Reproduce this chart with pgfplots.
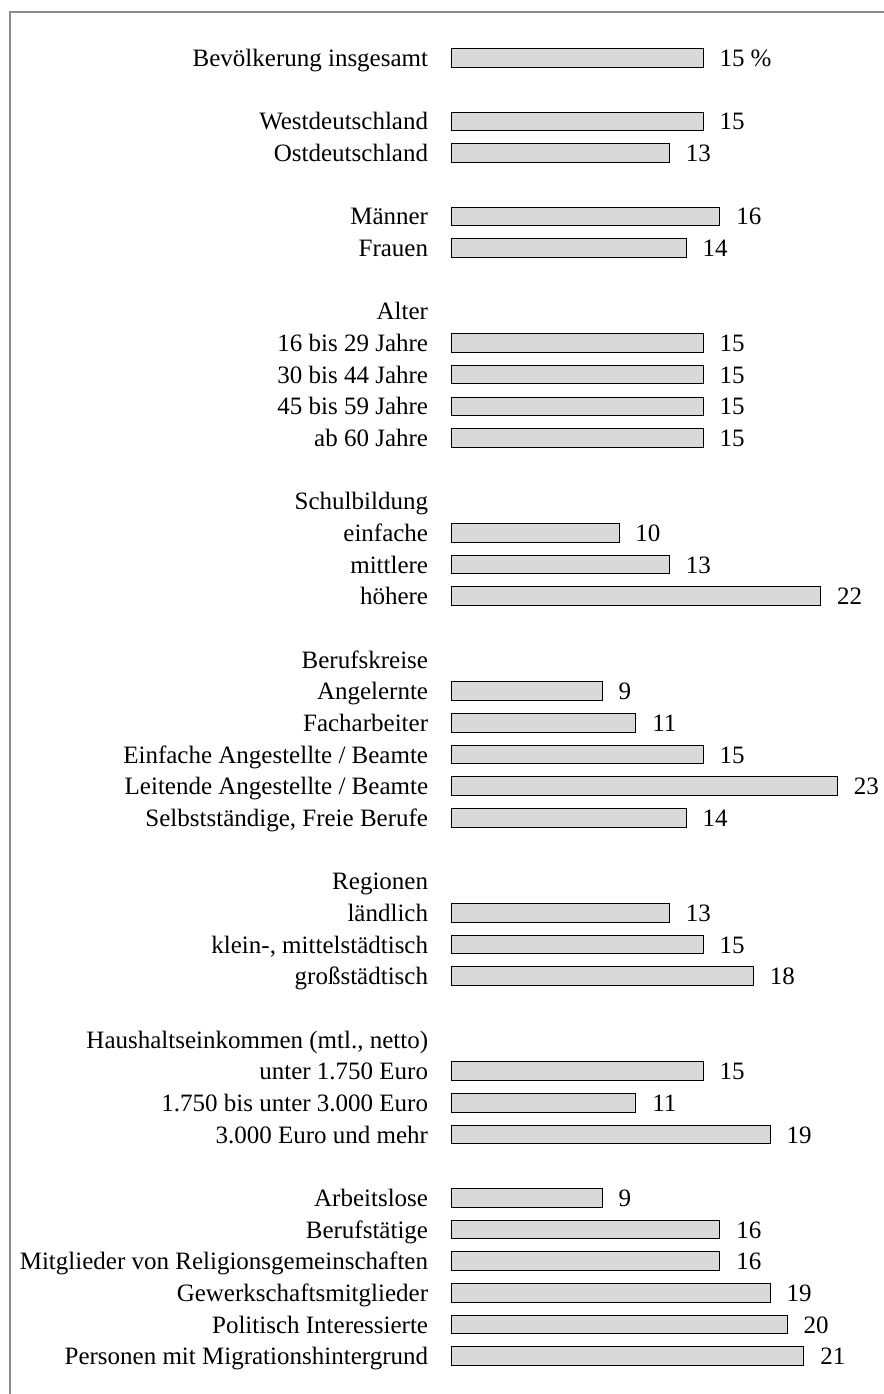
\documentclass[border=0pt]{standalone}
\usepackage{fontspec}
\setmainfont{Liberation Serif}
\usepackage{pgfplots}
\pgfplotsset{compat=1.18}
\definecolor{barfill}{HTML}{D9D9D9}
\definecolor{framegray}{HTML}{8C8C8C}
\begin{document}
\begin{tikzpicture}
\begin{axis}[
  scale only axis,
  width=324pt, height=1045.5pt,
  xbar, bar width=13.9pt,
  xmin=0, xmax=25.71,
  ymin=-1.832, ymax=42.20,
  y dir=reverse,
  axis line style={draw=none},
  xtick=\empty,
  major tick length=0pt,
  ytick={0,2,3,5,6,8,9,10,11,12,14,15,16,17,19,20,21,22,23,24,26,27,28,29,31,32,33,34,36,37,38,39,40,41},
  yticklabels={
    {Bevölkerung insgesamt},
    {Westdeutschland},{Ostdeutschland},
    {Männer},{Frauen},
    {Alter},{16 bis 29 Jahre},{30 bis 44 Jahre},{45 bis 59 Jahre},{ab 60 Jahre},
    {Schulbildung},{einfache},{mittlere},{höhere},
    {Berufskreise},{Angelernte},{Facharbeiter},{Einfache Angestellte / Beamte},{Leitende Angestellte / Beamte},{Selbstständige, Freie Berufe},
    {Regionen},{ländlich},{klein-, mittelstädtisch},{großstädtisch},
    {Haushaltseinkommen (mtl., netto)},{unter 1.750 Euro},{1.750 bis unter 3.000 Euro},{3.000 Euro und mehr},
    {Arbeitslose},{Berufstätige},{Mitglieder von Religionsgemeinschaften},{Gewerkschaftsmitglieder},{Politisch Interessierte},{Personen mit Migrationshintergrund}
  },
  yticklabel style={font=\fontsize{18.75}{21}\selectfont, anchor=base east, inner sep=0pt, xshift=-17pt, yshift=-6.5pt},
  clip=false,
  point meta=explicit symbolic,
  nodes near coords={\pgfplotspointmeta},
  nodes near coords style={font=\fontsize{18.75}{21}\selectfont, anchor=base west, inner sep=0pt, xshift=12pt, yshift=-6.5pt},
]
\addplot[draw=black, line width=0.7pt, fill=barfill] coordinates {
  (15,0) [15 \%]
  (15,2) [15] (13,3) [13]
  (16,5) [16] (14,6) [14]
  (15,9) [15] (15,10) [15] (15,11) [15] (15,12) [15]
  (10,15) [10] (13,16) [13] (22,17) [22]
  (9,20) [9] (11,21) [11] (15,22) [15] (23,23) [23] (14,24) [14]
  (13,27) [13] (15,28) [15] (18,29) [18]
  (15,32) [15] (11,33) [11] (19,34) [19]
  (9,36) [9] (16,37) [16] (16,38) [16] (19,39) [19] (20,40) [20] (21,41) [21]
};
\end{axis}
\draw[framegray, line width=1.1pt] (-330.75pt,-5pt) -- (-330.75pt,1036.5pt) -- (330pt,1036.5pt);
\pgfresetboundingbox
\useasboundingbox (-338.25pt,0pt) rectangle (324pt,1045.5pt);
\end{tikzpicture}
\end{document}
